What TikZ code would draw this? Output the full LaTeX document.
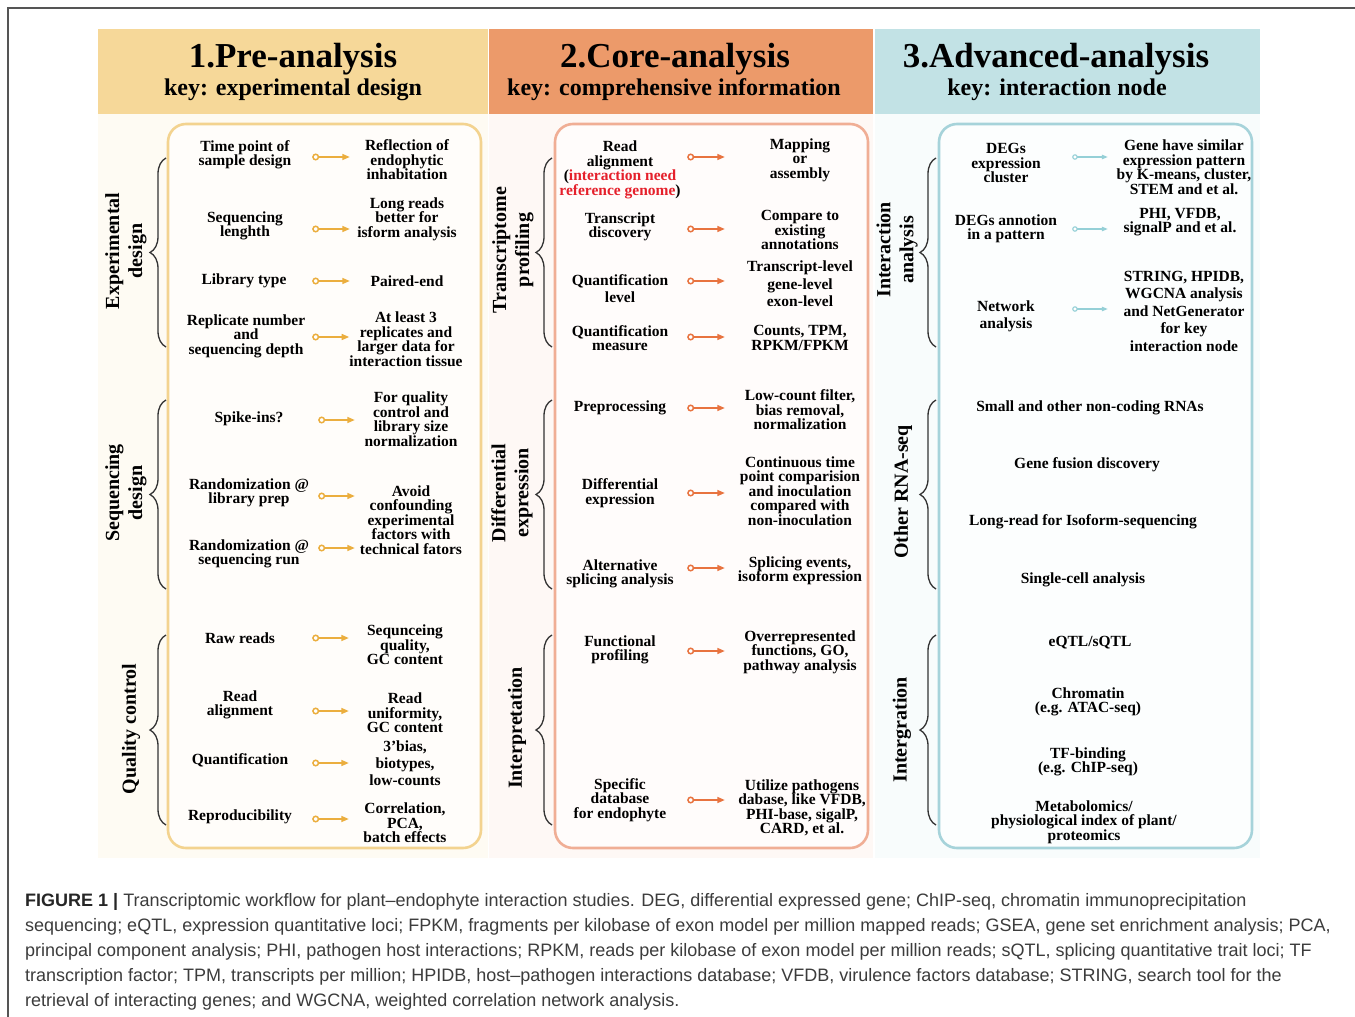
\documentclass[tikz,border=0pt]{standalone}
\usepackage{fontspec}
\setmainfont{Liberation Serif}
\newfontfamily\capfont{Liberation Sans}
\usetikzlibrary{arrows.meta,decorations.pathreplacing,calc}
\definecolor{bandA}{HTML}{F6D899}
\definecolor{bandB}{HTML}{EC9A6A}
\definecolor{bandC}{HTML}{C2E2E5}
\definecolor{boxA}{HTML}{F3D38F}
\definecolor{boxB}{HTML}{F0AE95}
\definecolor{boxC}{HTML}{A6D3DA}
\definecolor{bgA}{HTML}{FEFBF3}
\definecolor{bgB}{HTML}{FEF8F5}
\definecolor{bgC}{HTML}{F8FCFC}
\definecolor{arrA}{HTML}{EBAE3E}
\definecolor{arrB}{HTML}{E8733F}
\definecolor{arrC}{HTML}{95D0D7}
\definecolor{redtxt}{HTML}{E5202B}
\definecolor{captxt}{HTML}{3C3C3C}
\definecolor{framec}{HTML}{555555}

\tikzset{
  itm/.style={font=\fontsize{15.5}{14.5}\selectfont\bfseries, align=center, inner sep=0pt},
  ttl/.style={font=\fontsize{35}{37}\selectfont\bfseries, inner sep=0pt},
  sub/.style={font=\fontsize{24}{26}\selectfont\bfseries, inner sep=0pt},
  side/.style={font=\fontsize{20}{23}\selectfont\bfseries, align=center, rotate=90, inner sep=0pt},
  brc/.style={draw=black!80, line width=1.3pt, decorate, decoration={brace, amplitude=16pt}},
  band/.style={anchor=north west, inner sep=0pt, minimum height=85pt},
  panel/.style={line width=2.6pt, rounded corners=18pt, inner sep=0pt},
  arA/.style={draw=arrA, line width=1.5pt, {Circle[length=7pt,width=7pt,fill=white]}-{Triangle[length=7.5pt,width=6pt]}},
  arB/.style={draw=arrB, line width=1.5pt, {Circle[length=7pt,width=7pt,fill=white]}-{Triangle[length=7.5pt,width=6pt]}},
  arC/.style={draw=arrC, line width=1.1pt, {Circle[length=5.5pt,width=5.5pt,fill=white]}-{Triangle[length=6pt,width=4.5pt]}},
  captn/.style={font=\capfont\fontsize{18}{20}\selectfont, text=captxt, anchor=base west, inner sep=0pt}
}

% #1 name, #2 lx, #3 ly, #4 ltext, #5 rx, #6 ry, #7 rtext, #8 arrow y, #9 arrow style
\newcommand\arow[9]{%
  \pgfmathsetmacro\lwid{2*(\axs-#2)}%
  \pgfmathsetmacro\rwid{2*(#5-\axe)}%
  \node[itm, minimum width=\lwid] (#1l) at (#2,#3) {#4};
  \node[itm, minimum width=\rwid] (#1r) at (#5,#6) {#7};
  \draw[#9] (#1l.east |- 0,#8) -- (#1r.west |- 0,#8);
}

\begin{document}
\begin{tikzpicture}[x=1pt,y=-1pt]
\useasboundingbox (0,0) rectangle (1355,1017);
\fill[white] (0,0) rectangle (1355,1017);
\draw[framec, line width=1.5pt] (8,1020) -- (8,8) -- (1360,8);

% column backgrounds
\fill[bgA] (98,114) rectangle (488,858);
\fill[bgB] (489,114) rectangle (873,858);
\fill[bgC] (875,114) rectangle (1260,858);

% header bands
\node[band, fill=bandA, minimum width=390pt] (h1) at (98,29) {};
\node[band, fill=bandB, minimum width=384pt] (h2) at (489,29) {};
\node[band, fill=bandC, minimum width=385pt] (h3) at (875,29) {};
\node[ttl] (t1) at (293,59) {1.Pre-analysis};
\node[sub] (k1) at (293,90) {key: experimental design};
\node[ttl] (t2) at (675,59) {2.Core-analysis};
\node[sub] (k2) at (674,90) {key: comprehensive information};
\node[ttl] (t3) at (1056,59) {3.Advanced-analysis};
\node[sub] (k3) at (1057,90) {key: interaction node};

% panels
\node[panel, draw=boxA, fill=white!60!bgA, minimum width=313pt, minimum height=724pt] (p1) at (324.5,486) {};
\node[panel, draw=boxB, fill=white!60!bgB, minimum width=313pt, minimum height=724pt] (p2) at (711.5,486) {};
\node[panel, draw=boxC, fill=white!60!bgC, minimum width=313pt, minimum height=724pt] (p3) at (1095.5,486) {};

% braces
\draw[brc] (166,347) -- (166,158);
\draw[brc] (166,589) -- (166,400);
\draw[brc] (166,825) -- (166,635);
\draw[brc] (552,347) -- (552,158);
\draw[brc] (552,589) -- (552,400);
\draw[brc] (552,825) -- (552,635);
\draw[brc] (936,347) -- (936,158);
\draw[brc] (936,589) -- (936,400);
\draw[brc] (936,825) -- (936,635);

% side labels
\node[side] (s1) at (126,251) {Experimental\\design};
\node[side] (s2) at (126,493) {Sequencing\\design};
\node[side] (s3) at (131,729) {Quality control};
\node[side] (s4) at (513,250) {Transcriptome\\profiling};
\node[side] (s5) at (512,493) {Differential\\expression};
\node[side] (s6) at (517,728) {Interpretation};
\node[side] (s7) at (897,250) {Interaction\\analysis};
\node[side] (s8) at (903,492) {Other RNA-seq};
\node[side] (s9) at (902,730) {Intergration};

% ---------- column 1 ----------
\def\axs{312}\def\axe{350}
\arow{a1}{245}{155}{Time point of\\sample design}{407}{160}{Reflection of\\endophytic\\inhabitation}{157}{arA}
\arow{a2}{245}{226}{Sequencing\\lenghth}{407}{219}{Long reads\\better for\\isform analysis}{229}{arA}
\arow{a3}{244}{281}{Library type}{407}{281}{Paired-end}{281}{arA}
\arow{a4}{246}{336}{Replicate number\\and\\sequencing depth}{406}{339}{At least 3\\replicates and\\larger data for\\interaction tissue}{337}{arA}
\def\axs{318}\def\axe{355}
\arow{a5}{249}{419}{Spike-ins?}{411}{419}{For quality\\control and\\library size\\normalization}{420}{arA}
\arow{a6}{249}{493}{Randomization @\\library prep}{411}{520}{Avoid\\confounding\\experimental\\factors with\\technical fators}{496}{arA}
\node[itm, minimum width=138pt] (a7l) at (249,554) {Randomization @\\sequencing run};
\draw[arA] (a7l.east |- 0,548) -- (a6r.west |- 0,548);
\def\axs{312}\def\axe{349}
\arow{a8}{240}{638}{Raw reads}{405}{645}{Sequnceing\\quality,\\GC content}{638}{arA}
\arow{a9}{240}{705}{Read\\alignment}{405}{713}{Read\\uniformity,\\GC content}{711}{arA}
\arow{a10}{240}{760}{Quantification}{405}{763}{3’bias,\\[2.5pt]biotypes,\\[2.5pt]low-counts}{763}{arA}
\arow{a11}{240}{817}{Reproducibility}{405}{823}{Correlation,\\PCA,\\batch effects}{819}{arA}

% ---------- column 2 ----------
\def\axs{687}\def\axe{725}
\arow{b1}{620}{170}{Read\\alignment\\(\textcolor{redtxt}{interaction need}\\\textcolor{redtxt}{reference genome})}{800}{160}{Mapping\\or\\assembly}{157}{arB}
\arow{b2}{620}{227}{Transcript\\discovery}{800}{230}{Compare to\\existing\\annotations}{229}{arB}
\arow{b3}{620}{289}{Quantification\\[2.5pt]level}{800}{284}{Transcript-level\\[3pt]gene-level\\[3pt]exon-level}{281}{arB}
\arow{b4}{620}{338}{Quantification\\measure}{800}{338}{Counts, TPM,\\RPKM/FPKM}{337}{arB}
\arow{b5}{620}{408}{Preprocessing}{800}{410}{Low-count filter,\\bias removal,\\normalization}{408}{arB}
\arow{b6}{620}{493}{Differential\\expression}{800}{491}{Continuous time\\point comparision\\and inoculation\\compared with\\non-inoculation}{493}{arB}
\arow{b7}{620}{574}{Alternative\\splicing analysis}{800}{571}{Splicing events,\\isoform expression}{568}{arB}
\arow{b8}{620}{650}{Functional\\profiling}{800}{652}{Overrepresented\\functions, GO,\\pathway analysis}{651}{arB}
\arow{b9}{620}{800}{Specific\\database\\for endophyte}{802}{808}{Utilize pathogens\\dabase, like VFDB,\\PHI-base, sigalP,\\CARD, et al.}{800}{arB}

% ---------- column 3 ----------
\def\axs{1072}\def\axe{1108}
\arow{c1}{1006}{163}{DEGs\\expression\\cluster}{1184}{167}{Gene have similar\\expression pattern\\by K-means, cluster,\\STEM and et al.}{157}{arC}
\arow{c2}{1006}{229}{DEGs annotion\\in a pattern}{1180}{222}{PHI, VFDB,\\signalP and et al.}{229}{arC}
\arow{c3}{1006}{316}{Network\\[2.5pt]analysis}{1184}{311}{STRING, HPIDB,\\[3pt]WGCNA analysis\\[3pt]and NetGenerator\\[3pt]for key\\[3pt]interaction node}{309}{arC}
\node[itm] (d1) at (1090,408) {Small and other non-coding RNAs};
\node[itm] (d2) at (1087,465) {Gene fusion discovery};
\node[itm] (d3) at (1083,522) {Long-read for Isoform-sequencing};
\node[itm] (d4) at (1083,580) {Single-cell analysis};
\node[itm] (e1) at (1090,643) {eQTL/sQTL};
\node[itm] (e2) at (1088,702) {Chromatin\\(e.g. ATAC-seq)};
\node[itm] (e3) at (1088,762) {TF-binding\\(e.g. ChIP-seq)};
\node[itm] (e4) at (1084,822) {Metabolomics/\\physiological index of plant/\\proteomics};

% ---------- caption ----------
\node[captn] (cap1) at (25,906) {\textbf{\color{black!85}FIGURE 1 |} Transcriptomic workflow for plant–endophyte interaction studies. DEG, differential expressed gene; ChIP-seq, chromatin immunoprecipitation};
\node[captn] (cap2) at (25,931) {sequencing; eQTL, expression quantitative loci; FPKM, fragments per kilobase of exon model per million mapped reads; GSEA, gene set enrichment analysis; PCA,};
\node[captn] (cap3) at (25,956) {principal component analysis; PHI, pathogen host interactions; RPKM, reads per kilobase of exon model per million reads; sQTL, splicing quantitative trait loci; TF};
\node[captn] (cap4) at (25,981) {transcription factor; TPM, transcripts per million; HPIDB, host–pathogen interactions database; VFDB, virulence factors database; STRING, search tool for the};
\node[captn] (cap5) at (25,1006) {retrieval of interacting genes; and WGCNA, weighted correlation network analysis.};
\end{tikzpicture}
\end{document}
